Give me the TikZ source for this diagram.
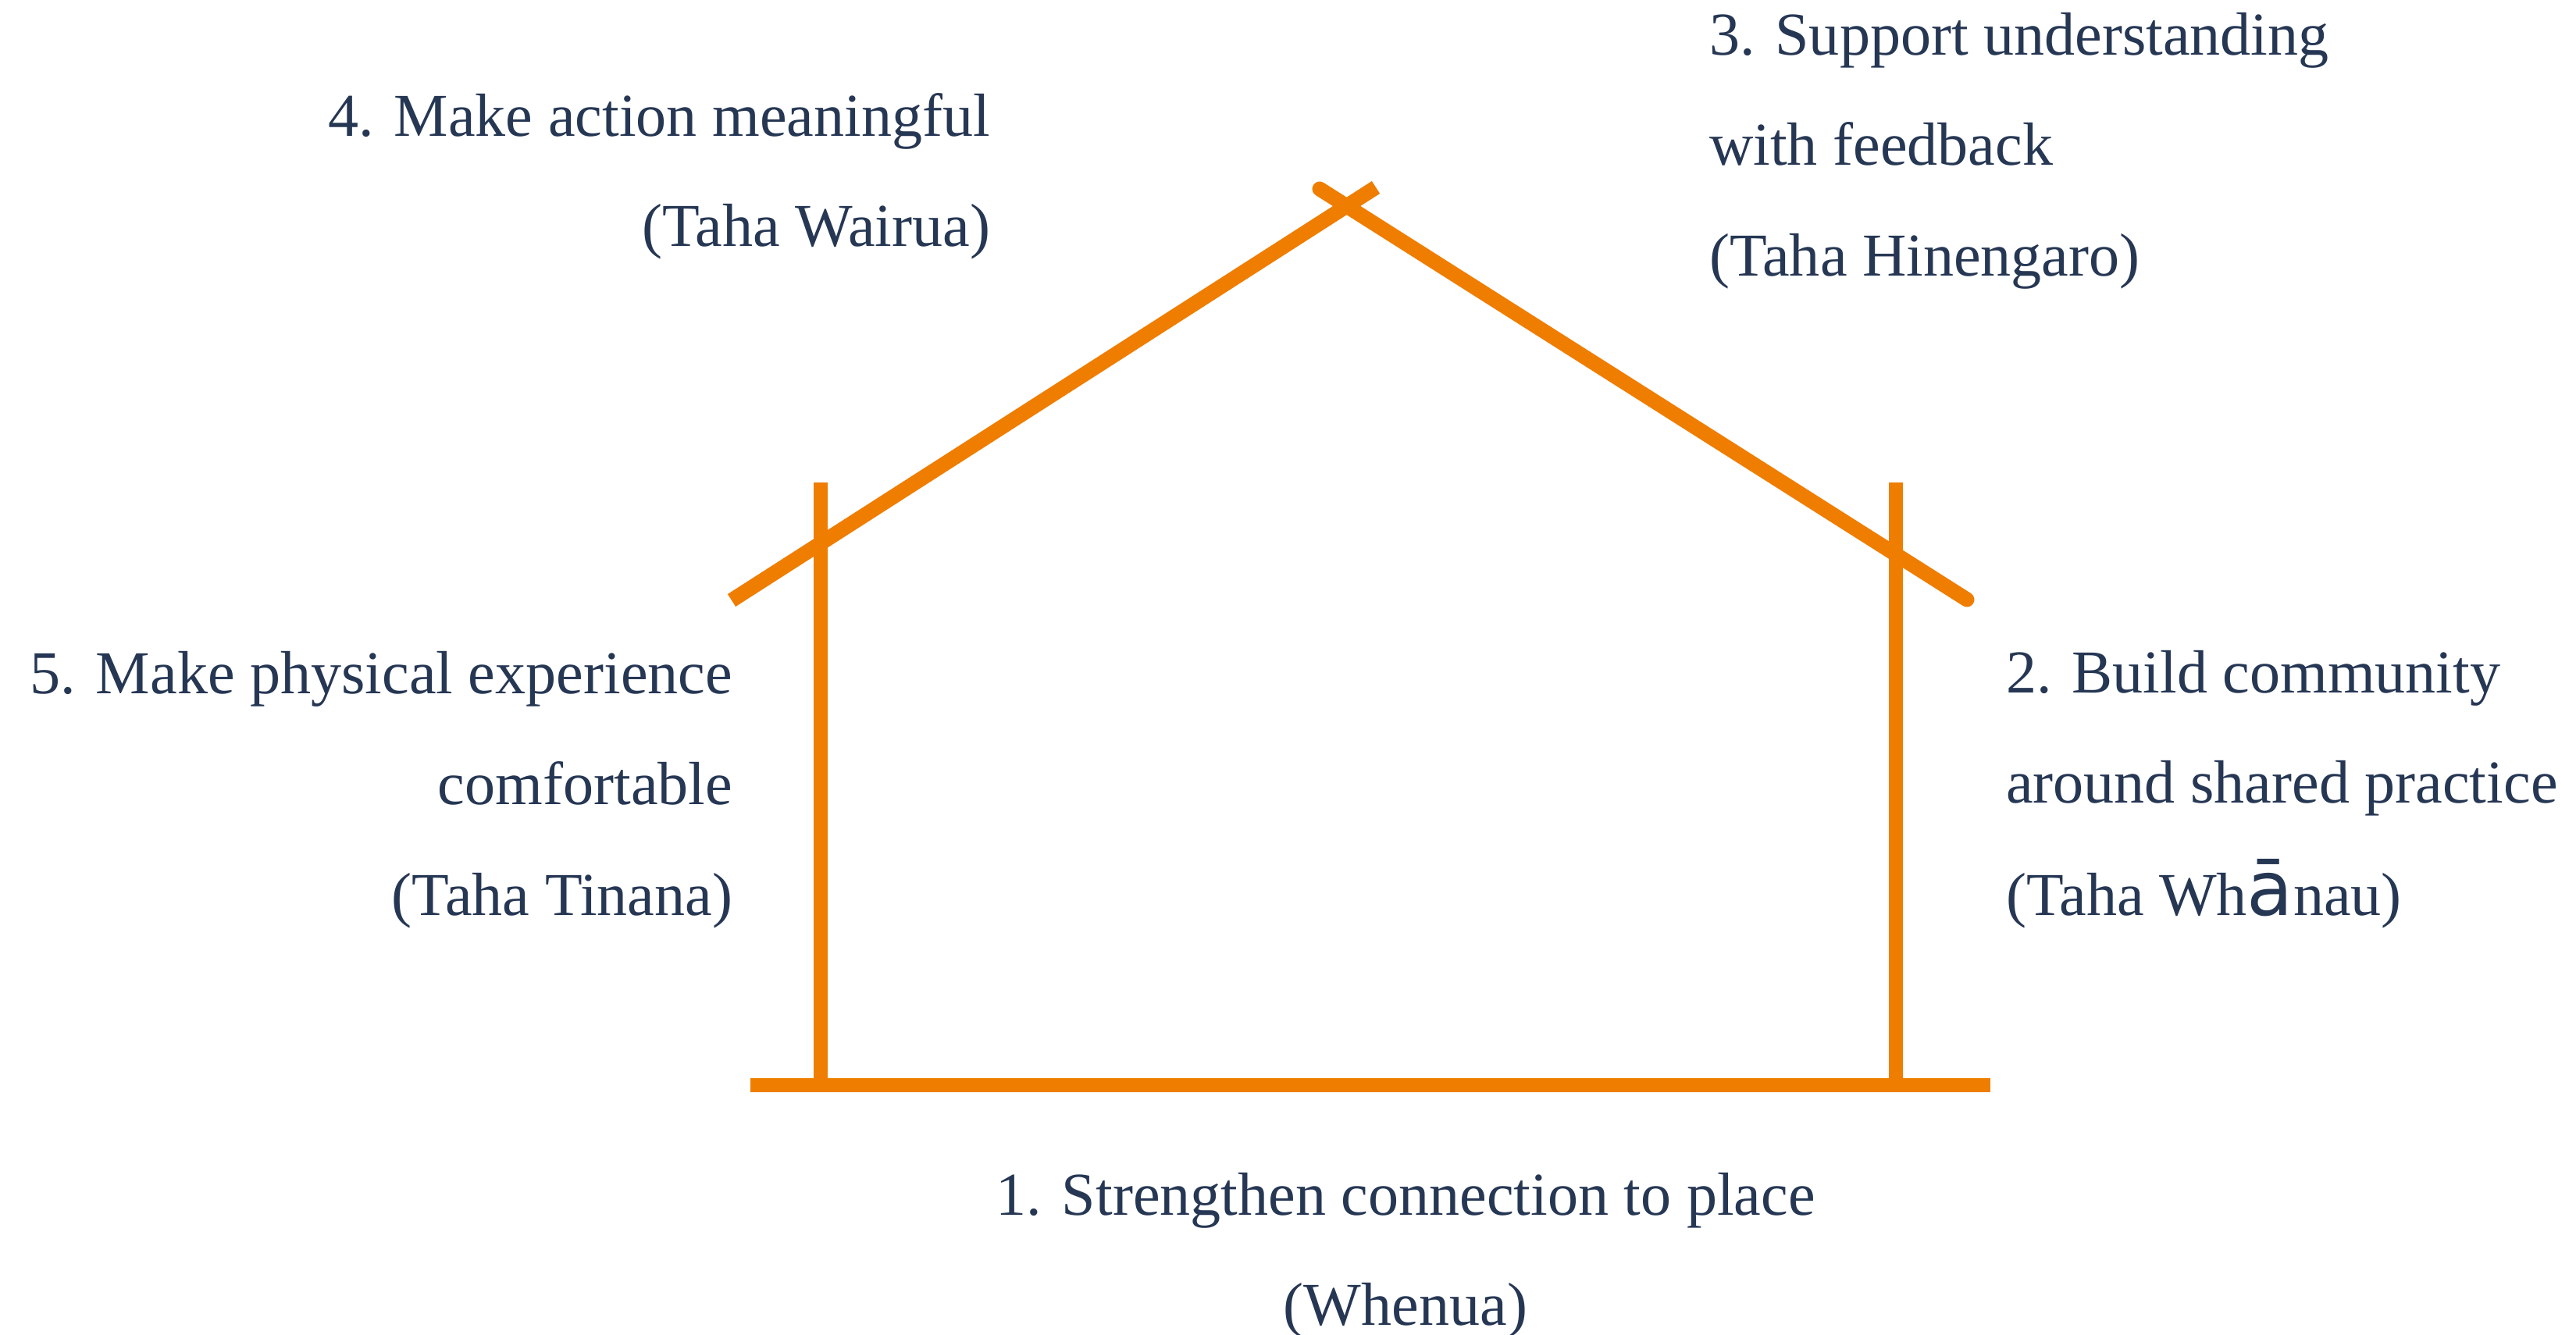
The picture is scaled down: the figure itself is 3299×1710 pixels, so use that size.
\documentclass[tikz,border=0pt]{standalone}
\usepackage{fontspec}
\setmainfont{Liberation Serif}
\newfontfamily\fallbacksans{DejaVu Sans}
\definecolor{houseorange}{HTML}{EF7D00}
\definecolor{textnavy}{HTML}{263754}
\begin{document}
\begin{tikzpicture}[x=0.01cm,y=-0.01cm,
  beam/.style={draw=houseorange,line width=5.4pt},
  post/.style={draw=houseorange,line width=5.1pt},
  lbl/.style={inner sep=0pt,outer sep=0pt,text=textnavy,font=\fontsize{22.2pt}{40pt}\selectfont}]
\useasboundingbox (0,0) rectangle (3299,1710);
% house geometry
\coordinate (roofLa) at (937,769);
\coordinate (roofLb) at (1762,240);
\coordinate (roofRa) at (1690,242);
\coordinate (roofRb) at (2519,768);
\coordinate (postLt) at (1051,618);
\coordinate (postLb) at (1051,1385);
\coordinate (postRt) at (2428,618);
\coordinate (postRb) at (2428,1385);
\coordinate (baseL) at (961,1390);
\coordinate (baseR) at (2549,1390);
\draw[post] (postLt) -- (postLb);
\draw[post] (postRt) -- (postRb);
\draw[beam] (baseL) -- (baseR);
\draw[beam,line cap=butt] (roofLa) -- (roofLb);
\draw[beam,line cap=round] (roofRa) -- (roofRb);
% labels
\node[lbl,anchor=base east] (t4a) at (1268,175) {4. Make action meaningful};
\node[lbl,anchor=base east] (t4b) at (1268,316) {(Taha Wairua)};
\node[lbl,anchor=base west] (t3a) at (2189,71) {3. Support understanding};
\node[lbl,anchor=base west] (t3b) at (2189,212) {with feedback};
\node[lbl,anchor=base west] (t3c) at (2189,354) {(Taha Hinengaro)};
\node[lbl,anchor=base east] (t5a) at (938,889) {5. Make physical experience};
\node[lbl,anchor=base east] (t5b) at (938,1031) {comfortable};
\node[lbl,anchor=base east] (t5c) at (938,1173) {(Taha Tinana)};
\node[lbl,anchor=base west] (t2a) at (2569,888) {2. Build community};
\node[lbl,anchor=base west] (t2b) at (2569,1029) {around shared practice};
\node[lbl,anchor=base west] (t2c) at (2569,1173) {(Taha Wh{\fallbacksans\fontsize{27.5pt}{40pt}\selectfont ā}nau)};
\node[lbl,anchor=base] (t1a) at (1800,1556) {1. Strengthen connection to place};
\node[lbl,anchor=base] (t1b) at (1800,1697) {(Whenua)};
\end{tikzpicture}
\end{document}
